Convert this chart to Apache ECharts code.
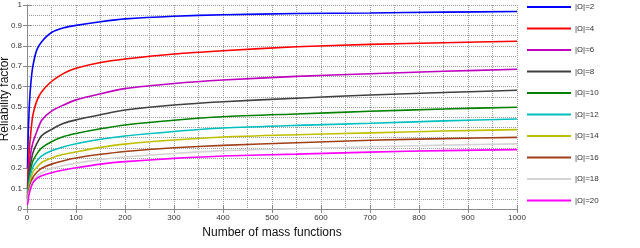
<!DOCTYPE html>
<html><head><meta charset="utf-8">
<script src="https://cdn.jsdelivr.net/npm/echarts@6/dist/echarts.min.js"></script>
<style>html,body{margin:0;padding:0;background:#fff}#c{width:640px;height:248px}</style>
</head><body><div id="c"></div>
<script>
const nValues = [1, 2, 3, 5, 8, 12, 20, 30, 50, 75, 100, 150, 200, 300, 400, 550, 700, 850, 1000];
const seriesNames = ['|Ω|=2','|Ω|=4','|Ω|=6','|Ω|=8','|Ω|=10','|Ω|=12','|Ω|=14','|Ω|=16','|Ω|=18','|Ω|=20'];
const omega2  = [0.20, 0.32, 0.40, 0.52, 0.62, 0.70, 0.78, 0.82, 0.865, 0.888, 0.900, 0.918, 0.932, 0.945, 0.952, 0.958, 0.961, 0.965, 0.968];
const omega4  = [0.10, 0.17, 0.22, 0.30, 0.38, 0.46, 0.53, 0.575, 0.625, 0.665, 0.690, 0.718, 0.735, 0.760, 0.776, 0.795, 0.807, 0.815, 0.822];
const omega6  = [0.08, 0.13, 0.17, 0.22, 0.28, 0.325, 0.38, 0.435, 0.48, 0.51, 0.535, 0.565, 0.59, 0.615, 0.632, 0.65, 0.663, 0.675, 0.685];
const omega8  = [0.06, 0.11, 0.14, 0.19, 0.23, 0.275, 0.32, 0.36, 0.39, 0.42, 0.437, 0.462, 0.485, 0.51, 0.526, 0.543, 0.559, 0.571, 0.582];
const omega10 = [0.05, 0.09, 0.12, 0.16, 0.20, 0.235, 0.27, 0.30, 0.33, 0.355, 0.37, 0.393, 0.412, 0.435, 0.452, 0.466, 0.479, 0.49, 0.499];
const omega12 = [0.045, 0.08, 0.105, 0.14, 0.175, 0.205, 0.235, 0.26, 0.285, 0.305, 0.32, 0.342, 0.358, 0.38, 0.397, 0.41, 0.42, 0.432, 0.441];
const omega14 = [0.04, 0.07, 0.09, 0.12, 0.15, 0.18, 0.205, 0.228, 0.25, 0.268, 0.28, 0.302, 0.318, 0.338, 0.353, 0.364, 0.373, 0.382, 0.389];
const omega16 = [0.035, 0.06, 0.08, 0.105, 0.13, 0.155, 0.18, 0.20, 0.22, 0.237, 0.25, 0.268, 0.282, 0.30, 0.312, 0.325, 0.337, 0.345, 0.351];
const omega18 = [0.03, 0.05, 0.07, 0.09, 0.115, 0.138, 0.16, 0.178, 0.198, 0.213, 0.225, 0.242, 0.255, 0.272, 0.286, 0.296, 0.305, 0.313, 0.319];
const omega20 = [0.02, 0.036, 0.055, 0.08, 0.105, 0.128, 0.15, 0.163, 0.178, 0.191, 0.202, 0.22, 0.232, 0.248, 0.26, 0.269, 0.279, 0.286, 0.291];
const allValues = [omega2, omega4, omega6, omega8, omega10, omega12, omega14, omega16, omega18, omega20];
const colors = ['#0000ff','#ff0000','#bf00bf','#404040','#008000','#00bfbf','#bfbf00','#a0401a','#d4d4d4','#ff00ff'];
const yAxisTitle = 'Reliability factor';
const xAxisTitle = 'Number of mass functions';

const chart = echarts.init(document.getElementById('c'), null, {renderer:'canvas'});
const frame = {lineStyle:{color:'#8a8a8a', width:1}};
const grid = {type:'dotted', color:'#9a9a9a', width:1};
const font = 'Arial, "Liberation Sans", sans-serif';
chart.setOption({
  animation:false,
  color: colors,
  grid:{left:27, right:123, top:5, bottom:39, containLabel:false, outerBoundsMode:'none'},
  graphic:[{
    type:'text', x:5, y:99, rotation:Math.PI/2,
    style:{text:yAxisTitle, fontSize:12, fill:'#111', fontFamily:font, align:'center', verticalAlign:'middle'}
  }],
  legend:{
    orient:'vertical', left:527, top:1, padding:0, itemGap:9.5,
    itemWidth:44, itemHeight:2, icon:'rect',
    textStyle:{fontSize:8, color:'#333', fontFamily:font, lineHeight:12, padding:[0,0,0,-1]},
    data: seriesNames
  },
  xAxis:[{
    type:'value', min:0, max:1000, interval:100,
    axisLine:frame, axisTick:{show:true, inside:true, length:4, lineStyle:{color:'#8a8a8a'}},
    axisLabel:{fontSize:8, color:'#333', fontFamily:font, margin:5, formatter:v=>String(v)},
    splitLine:{show:true, lineStyle:grid},
    minorTick:{show:false, splitNumber:2},
    minorSplitLine:{show:true, lineStyle:grid},
    name:xAxisTitle, nameLocation:'middle', nameGap:12,
    nameTextStyle:{fontSize:12, color:'#111', fontFamily:font}
  },{
    type:'value', min:0, max:1000, interval:100, position:'top',
    axisLine:frame, axisTick:{show:true, inside:true, length:4, lineStyle:{color:'#8a8a8a'}},
    axisLabel:{show:false}, splitLine:{show:false}
  }],
  yAxis:[{
    type:'value', min:0, max:1, interval:0.1,
    axisLine:{show:true, ...frame}, axisTick:{show:true, inside:true, length:4, lineStyle:{color:'#8a8a8a'}},
    axisLabel:{fontSize:8, color:'#333', fontFamily:font, margin:5,
      formatter:v=>String(Math.round(v*10)/10)},
    splitLine:{show:true, lineStyle:grid},
    minorTick:{show:false, splitNumber:2},
    minorSplitLine:{show:true, lineStyle:grid}
  },{
    type:'value', min:0, max:1, interval:0.1, position:'right',
    axisLine:{show:true, ...frame}, axisTick:{show:true, inside:true, length:4, lineStyle:{color:'#8a8a8a'}},
    axisLabel:{show:false}, splitLine:{show:false}
  }],
  series: seriesNames.map((name,i)=>({
    name, type:'line', xAxisIndex:0, yAxisIndex:0, showSymbol:false, smooth:0.25,
    lineStyle:{width:1.6, color:colors[i]}, itemStyle:{color:colors[i]},
    data: nValues.map((n,j)=>[n, allValues[i][j]])
  }))
});
</script></body></html>
